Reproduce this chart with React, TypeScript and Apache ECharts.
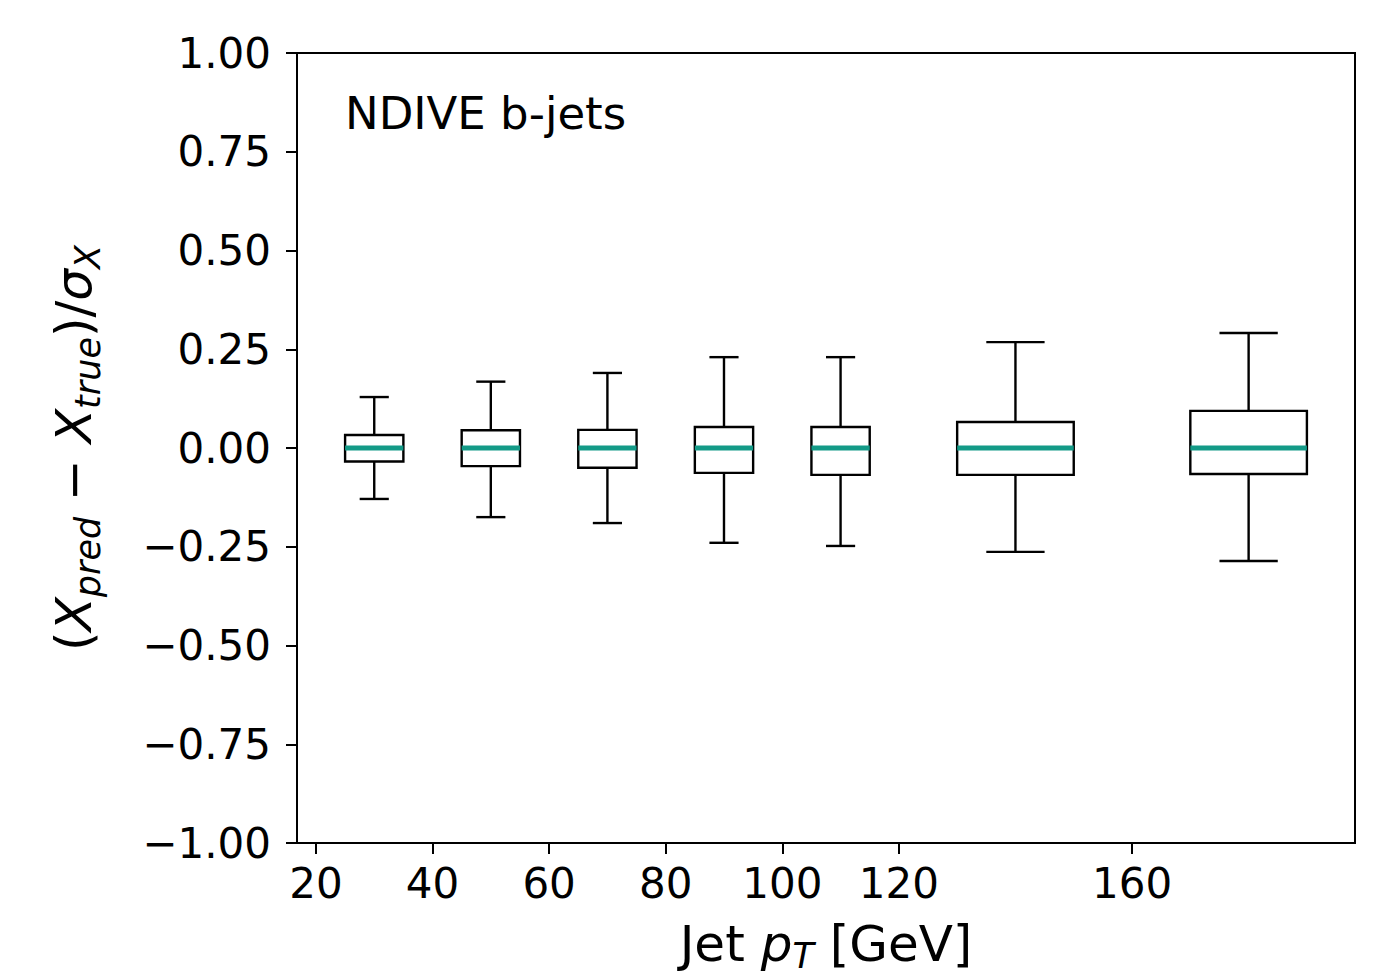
import React, { useEffect, useRef } from "react";
import * as echarts from "echarts";

// Bin edges of jet pT [GeV]; each box sits at the bin centre with half the bin width
const binEdges = [20, 40, 60, 80, 100, 120, 160, 200];
const xTickValues = [20, 40, 60, 80, 100, 120, 160];
const whiskerLow = [-0.129, -0.175, -0.19, -0.24, -0.248, -0.263, -0.286];
const q1 = [-0.034, -0.046, -0.05, -0.063, -0.068, -0.068, -0.066];
const median = [0, 0, 0, 0, 0, 0, 0];
const q3 = [0.033, 0.045, 0.046, 0.053, 0.053, 0.066, 0.094];
const whiskerHigh = [0.129, 0.168, 0.19, 0.23, 0.23, 0.268, 0.291];

const FONT = "DejaVu Sans";
const TEAL = "#139a87";

export default function App() {
  const ref = useRef<HTMLDivElement>(null);
  useEffect(() => {
    if (!ref.current) return;
    const chart = echarts.init(ref.current, null, { renderer: "svg" });
    const data = median.map((m, i) => {
      const lo = binEdges[i];
      const hi = binEdges[i + 1];
      return [(lo + hi) / 2, whiskerLow[i], q1[i], m, q3[i], whiskerHigh[i], (hi - lo) / 4];
    });
    const minus = (v: number) => v.toFixed(2).replace("-", "\u2212");
    chart.setOption({
      animation: false,
      backgroundColor: "#ffffff",
      grid: {
        left: 297,
        right: 27,
        top: 53,
        bottom: 136,
        containLabel: false,
        outerBoundsMode: "none",
        show: true,
        borderColor: "#000",
        borderWidth: 2,
        backgroundColor: "transparent",
      },
      xAxis: {
        type: "value",
        min: 16.75,
        max: 198.25,
        splitLine: { show: false },
        axisLine: { show: true, onZero: false, lineStyle: { color: "#000", width: 2 } },
        axisTick: {
          show: true,
          length: 11,
          customValues: xTickValues,
          lineStyle: { color: "#000", width: 2 },
        },
        axisLabel: {
          customValues: xTickValues,
          fontFamily: FONT,
          fontSize: 42,
          color: "#000",
          margin: 19,
        },
        name: "Jet {i|p}{s|T} [GeV]",
        nameLocation: "middle",
        nameGap: 72,
        nameTextStyle: {
          fontFamily: FONT,
          fontSize: 50,
          color: "#000",
          lineHeight: 58,
          rich: {
            i: { fontFamily: FONT, fontSize: 50, fontStyle: "italic", color: "#000", lineHeight: 58 },
            s: { fontFamily: FONT, fontSize: 35, fontStyle: "italic", color: "#000", verticalAlign: "bottom" },
          },
        },
      },
      yAxis: {
        type: "value",
        min: -1,
        max: 1,
        interval: 0.25,
        splitLine: { show: false },
        axisLine: { show: true, onZero: false, lineStyle: { color: "#000", width: 2 } },
        axisTick: { show: true, length: 11, lineStyle: { color: "#000", width: 2 } },
        axisLabel: {
          fontFamily: FONT,
          fontSize: 42,
          color: "#000",
          margin: 26,
          formatter: (v: number) => minus(v),
        },
        name: "({i|X}{s|pred} \u2212 {i|X}{s|true})/{i|\u03c3}{s|X}",
        nameLocation: "middle",
        nameGap: 192,
        nameTextStyle: {
          fontFamily: FONT,
          fontSize: 50,
          color: "#000",
          lineHeight: 62,
          rich: {
            i: { fontFamily: FONT, fontSize: 50, fontStyle: "italic", color: "#000", lineHeight: 62 },
            s: { fontFamily: FONT, fontSize: 35, fontStyle: "italic", color: "#000", verticalAlign: "bottom" },
          },
        },
      },
      graphic: [
        {
          type: "text",
          left: 345,
          top: 91,
          style: {
            text: "NDIVE b-jets",
            fontFamily: FONT,
            fontSize: 45,
            fill: "#000",
          },
        },
      ],
      series: [
        {
          type: "custom",
          data,
          encode: { x: 0, y: [1, 2, 3, 4, 5] },
          renderItem: (params: any, api: any) => {
            const x = api.value(0);
            const hw = api.value(6);
            const lo = api.value(1);
            const b1 = api.value(2);
            const md = api.value(3);
            const b3 = api.value(4);
            const hi = api.value(5);
            const pL = api.coord([x - hw, b3]);
            const pR = api.coord([x + hw, b1]);
            const cL = api.coord([x - hw / 2, lo]);
            const cR = api.coord([x + hw / 2, hi]);
            const c = api.coord([x, md]);
            const pLo = api.coord([x, lo]);
            const pHi = api.coord([x, hi]);
            const pB1 = api.coord([x, b1]);
            const pB3 = api.coord([x, b3]);
            const black = { stroke: "#000", lineWidth: 2.4, fill: "none" };
            return {
              type: "group",
              children: [
                { type: "line", shape: { x1: pLo[0], y1: pLo[1], x2: pB1[0], y2: pB1[1] }, style: black },
                { type: "line", shape: { x1: pB3[0], y1: pB3[1], x2: pHi[0], y2: pHi[1] }, style: black },
                { type: "line", shape: { x1: cL[0], y1: pLo[1], x2: cR[0], y2: pLo[1] }, style: black },
                { type: "line", shape: { x1: cL[0], y1: pHi[1], x2: cR[0], y2: pHi[1] }, style: black },
                {
                  type: "rect",
                  shape: { x: pL[0], y: pL[1], width: pR[0] - pL[0], height: pR[1] - pL[1] },
                  style: black,
                },
                {
                  type: "line",
                  shape: { x1: pL[0], y1: c[1], x2: pR[0], y2: c[1] },
                  style: { stroke: TEAL, lineWidth: 5 },
                },
              ],
            };
          },
        },
      ],
    });
    return () => chart.dispose();
  }, []);
  return (
    <div
      ref={ref}
      style={{ position: "fixed", left: 0, top: 0, width: 1382, height: 979, background: "#fff" }}
    />
  );
}
